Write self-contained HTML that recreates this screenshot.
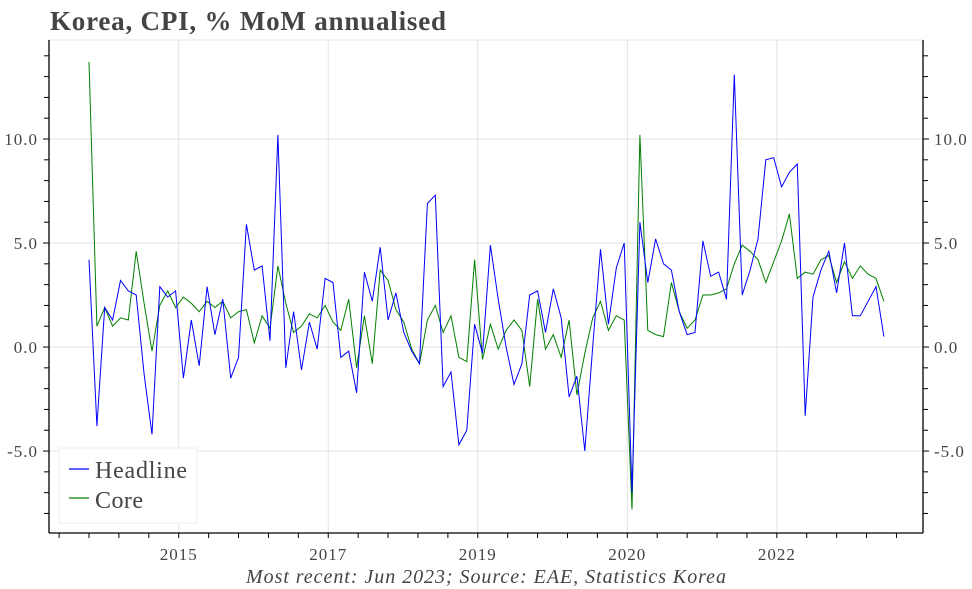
<!DOCTYPE html>
<html><head><meta charset="utf-8"><style>
body{margin:0;background:#fff;}
svg{display:block;font-family:"Liberation Serif",serif;}
</style></head><body>
<svg id="chart" width="972" height="589">
<text x="50" y="30" font-size="27" font-weight="bold" fill="#444" textLength="396" lengthAdjust="spacing">Korea, CPI, % MoM annualised</text>
<g id="grid"></g>
<g id="axes"></g>
<g id="series"></g>
<g>
<rect x="59" y="448" width="138" height="75" fill="#fff" stroke="#eee"/>
<line x1="69" y1="469" x2="89" y2="469" stroke="blue" stroke-width="1.2"/>
<text x="95" y="478" font-size="24" fill="#444" textLength="92" lengthAdjust="spacing">Headline</text>
<line x1="69" y1="498" x2="89" y2="498" stroke="green" stroke-width="1.2"/>
<text x="95" y="508" font-size="24" fill="#444" textLength="48" lengthAdjust="spacing">Core</text>
</g>
<text x="486" y="583" font-size="20" font-style="italic" fill="#444" text-anchor="middle" textLength="480" lengthAdjust="spacing">Most recent: Jun 2023; Source: EAE, Statistics Korea</text>
</svg>
<script>
const headline=[4.2,-3.8,1.9,1.3,3.2,2.7,2.5,-1.3,-4.2,2.9,2.4,2.7,-1.5,1.3,-0.9,2.9,0.6,2.3,-1.5,-0.5,5.9,3.7,3.9,0.3,10.2,-1.0,1.7,
-1.1,1.2,-0.1,3.3,3.1,-0.5,-0.2,-2.2,3.6,2.2,4.8,1.3,2.6,0.7,-0.2,-0.8,6.9,7.3,-1.9,-1.2,-4.7,-4.0,1.1,-0.3,4.9,2.3,0.0,
-1.8,-0.8,2.5,2.7,0.7,2.8,1.4,-2.4,-1.4,-5.0,0.0,4.7,1.1,3.8,5.0,-7.0,6.0,3.1,5.2,4.0,3.7,1.7,0.6,0.7,5.1,3.4,3.6,
2.3,13.1,2.5,3.7,5.2,9.0,9.1,7.7,8.4,8.8,-3.3,2.4,3.7,4.6,2.6,5.0,1.5,1.5,2.2,2.9,0.5];
const core=[13.7,1.0,1.9,1.0,1.4,1.3,4.6,2.1,-0.2,2.0,2.7,1.9,2.4,2.1,1.7,2.2,1.9,2.2,1.4,1.7,1.8,0.2,1.5,0.9,3.9,2.1,0.7,
1.0,1.6,1.4,2.0,1.2,0.8,2.3,-1.0,1.5,-0.8,3.7,3.2,1.8,1.2,-0.1,-0.8,1.3,2.0,0.7,1.5,-0.5,-0.7,4.2,-0.6,1.1,-0.1,0.8,
1.3,0.8,-1.9,2.3,-0.1,0.6,-0.5,1.3,-2.3,-0.3,1.4,2.2,0.8,1.5,1.3,-7.8,10.2,0.8,0.6,0.5,3.1,1.7,0.9,1.3,2.5,2.5,2.6,
2.8,4.0,4.9,4.6,4.2,3.1,4.1,5.1,6.4,3.3,3.6,3.5,4.2,4.4,3.1,4.1,3.3,3.9,3.5,3.3,2.2];
const xTickLabels=["2015","2017","2019","2020","2022"];
const xTickIdx=[11.4,30.4,49.4,68.4,87.4];
const yTickValues=[-5,0,5,10];
const yTickLabels=["-5.0","0.0","5.0","10.0"];
const L=49,R=923,T=40,B=533;
const YMIN=-8.94,YMAX=14.76;
function xs(i){return 89+7.87*i;}
function ys(v){return B-(v-YMIN)/(YMAX-YMIN)*(B-T);}
const NS="http://www.w3.org/2000/svg";
function mk(tag,attrs,parent){const e=document.createElementNS(NS,tag);for(const k in attrs)e.setAttribute(k,attrs[k]);document.getElementById(parent).appendChild(e);return e;}
let g=mk('line',{x1:L,x2:R,y1:T,y2:T,stroke:'#e3e3e3'},'grid');


yTickValues.forEach((v,i)=>{
  const l=mk('line',{x1:L,x2:R,y1:ys(v),y2:ys(v),stroke:'#e3e3e3'},'grid');
  
  
  const t1=mk('text',{x:L-11,y:ys(v)+6,'font-size':17,fill:'#444','text-anchor':'end','letter-spacing':1},'axes');
  t1.textContent=yTickLabels[i];
  
  
  const t2=mk('text',{x:R+11,y:ys(v)+6,'font-size':17,fill:'#444','letter-spacing':1},'axes');
  t2.textContent=yTickLabels[i];
  
  
});
for(let v=-8;v<=14;v++){
  const big=v%5===0;
  const a=mk('line',{x1:L-(big?6:5),x2:L,y1:ys(v),y2:ys(v),stroke:'#000'},'axes');
  
  
  const b=mk('line',{x1:R,x2:R+(big?6:5),y1:ys(v),y2:ys(v),stroke:'#000'},'axes');
  
  
}
xTickIdx.forEach((k,i)=>{
  const l=mk('line',{x1:xs(k),x2:xs(k),y1:T,y2:B,stroke:'#e3e3e3'},'grid');
  
  
  const t=mk('text',{x:xs(k),y:B+27,'font-size':17,fill:'#444','text-anchor':'middle','letter-spacing':1},'axes');
  t.textContent=xTickLabels[i];
  
  
});
const step=(xTickIdx[1]-xTickIdx[0])/5;
for(let k=xTickIdx[0]-4*step;xs(k)<R;k+=step){
  const tk=mk('line',{x1:xs(k),x2:xs(k),y1:B,y2:B+5,stroke:'#000'},'axes');
  
  
}
let ax=mk('line',{x1:L,x2:L,y1:T,y2:B,stroke:'#000','stroke-width':1.3},'axes');


ax=mk('line',{x1:R,x2:R,y1:T,y2:B,stroke:'#000','stroke-width':1.3},'axes');


ax=mk('line',{x1:L,x2:R,y1:B,y2:B,stroke:'#000','stroke-width':1.3},'axes');


function path(arr){return arr.map((v,i)=>(i?'L':'M')+xs(i).toFixed(1)+','+ys(v).toFixed(1)).join(' ');}
const pc=mk('path',{d:path(core),fill:'none',stroke:'green','stroke-width':1},'series');


const ph=mk('path',{d:path(headline),fill:'none',stroke:'blue','stroke-width':1},'series');


</script>
</body></html>
